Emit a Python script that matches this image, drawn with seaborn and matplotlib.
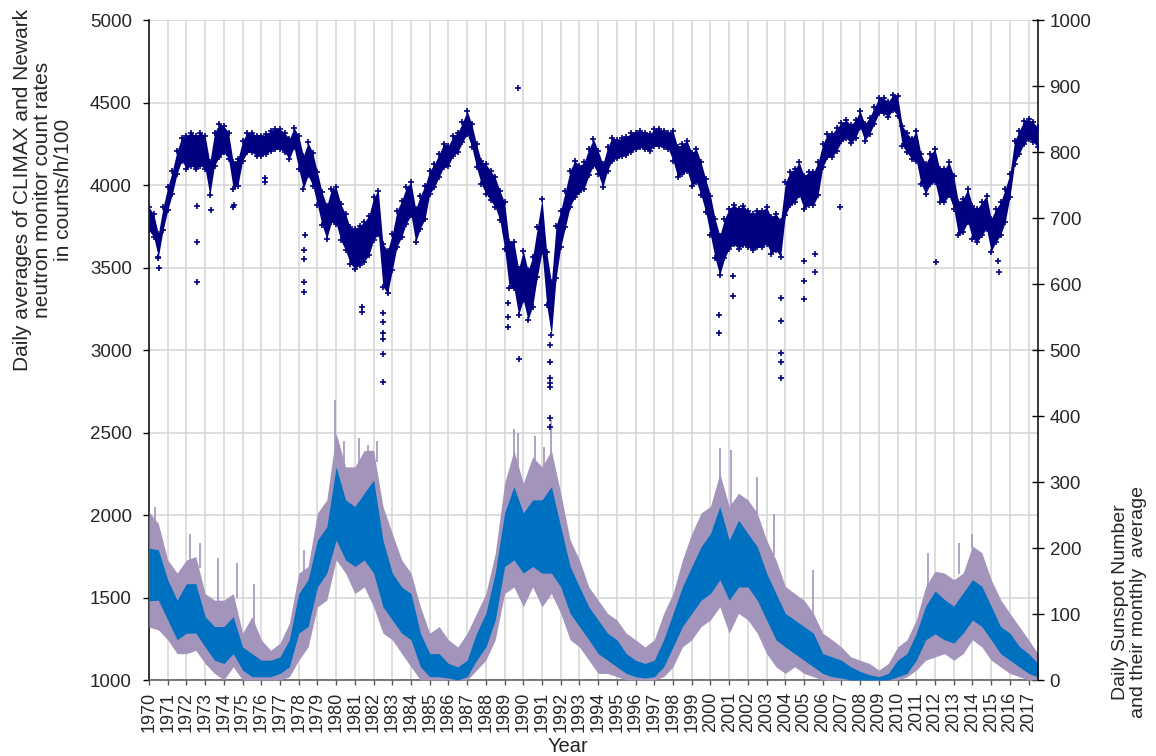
import numpy as np
import matplotlib
matplotlib.use("Agg")
import matplotlib.pyplot as plt
import seaborn as sns

# ---------------------------------------------------------------------------
# Neutron monitor count rates (CLIMAX / Newark), counts/h/100,
# sampled every quarter year starting 1970.0
# ---------------------------------------------------------------------------
nm_start = 1970.0
nm_step = 0.25
nm_counts = [
    3795, 3755, 3635, 3795,   # 1970
    3916, 4017, 4138, 4218,   # 1971
    4198, 4218, 4198, 4218,   # 1972
    4198, 4037, 4218, 4268,   # 1973
    4278, 4238, 4057, 4077,   # 1974
    4208, 4258, 4258, 4238,   # 1975
    4238, 4248, 4268, 4278,   # 1976
    4278, 4258, 4218, 4288,   # 1977
    4198, 4077, 4158, 4097,   # 1978
    3977, 3856, 3775, 3876,   # 1979
    3876, 3775, 3715, 3634,   # 1980
    3614, 3634, 3655, 3695,   # 1981
    3795, 3836, 3514, 3473,   # 1982
    3594, 3735, 3795, 3876,   # 1983
    3916, 3755, 3836, 3896,   # 1984
    4017, 4057, 4118, 4178,   # 1985
    4178, 4238, 4258, 4319,   # 1986
    4379, 4299, 4178, 4077,   # 1987
    4037, 3997, 3956, 3876,   # 1988
    3755, 3514, 3514, 3353,   # 1989
    3453, 3332, 3413, 3594,   # 1990
    3755, 3433, 3252, 3594,   # 1991
    3735, 3856, 3977, 4037,   # 1992
    4037, 4057, 4138, 4198,   # 1993
    4138, 4057, 4158, 4218,   # 1994
    4218, 4228, 4238, 4258,   # 1995
    4268, 4278, 4268, 4258,   # 1996
    4288, 4288, 4278, 4268,   # 1997
    4238, 4138, 4158, 4178,   # 1998
    4097, 4118, 4037, 3936,   # 1999
    3816, 3675, 3574, 3675,   # 2000
    3735, 3760, 3735, 3755,   # 2001
    3735, 3715, 3735, 3735,   # 2002
    3755, 3695, 3715, 3675,   # 2003
    3916, 3977, 3997, 4037,   # 2004
    3956, 3977, 3977, 4037,   # 2005
    4178, 4238, 4238, 4278,   # 2006
    4319, 4339, 4309, 4339,   # 2007
    4399, 4319, 4359, 4420,   # 2008
    4480, 4480, 4460, 4500,   # 2009
    4480, 4299, 4258, 4218,   # 2010
    4238, 4097, 4037, 4097,   # 2011
    4118, 3997, 3997, 4037,   # 2012
    3956, 3795, 3816, 3876,   # 2013
    3775, 3755, 3795, 3836,   # 2014
    3695, 3755, 3795, 3876,   # 2015
    3997, 4198, 4258, 4319,   # 2016
    4339, 4319, 4290,         # 2017
]
# typical day-to-day scatter (half width) for each year 1970..2017
nm_scatter = [
    70, 70, 100, 100, 80, 60, 60, 60, 100, 100,
    110, 120, 130, 110, 100, 70, 60, 70, 90, 140,
    150, 160, 110, 80, 70, 55, 50, 50, 90, 100,
    120, 120, 110, 110, 100, 100, 70, 55, 50, 45,
    60, 90, 100, 100, 100, 100, 70, 60,
]
# isolated days far from the bulk (Forbush decreases and one spike)
nm_event_year = [
    1970.53, 1970.48, 1972.59, 1972.59, 1972.55, 1973.30, 1974.50, 1974.55,
    1976.20, 1976.22, 1978.28, 1978.28, 1978.30, 1978.30, 1978.32, 1981.36,
    1981.36, 1982.50, 1982.50, 1982.50, 1982.50, 1982.52, 1982.52, 1989.16,
    1989.16, 1989.16, 1989.77, 1989.71, 1991.42, 1991.42, 1991.42, 1991.42,
    1991.42, 1991.42, 1991.42, 2000.45, 2000.45, 2001.20, 2001.20, 2003.76,
    2003.76, 2003.76, 2003.76, 2003.76, 2004.98, 2004.98, 2004.98, 2005.60,
    2005.60, 2006.90, 2012.07, 2015.40, 2015.35,
]
nm_event_count = [
    3500, 3560, 3655, 3413, 3870, 3850, 3866, 3880,
    4017, 4040, 3353, 3412, 3551, 3606, 3700, 3230,
    3260, 2808, 2976, 3067, 3103, 3170, 3224, 3285,
    3200, 3140, 2945, 4588, 3030, 2930, 2830, 2800,
    2776, 2588, 2533, 3212, 3105, 3450, 3330, 3313,
    3178, 2984, 2930, 2833, 3540, 3420, 3310, 3580,
    3470, 3866, 3534, 3474, 3540,
]

# ---------------------------------------------------------------------------
# Sunspot number, every half year from 1970.0: range of daily values and
# range of the monthly average
# ---------------------------------------------------------------------------
ss_start = 1970.0
ss_step = 0.5
ss_daily_hi = [
    255, 237, 182, 162, 182, 187, 131, 121, 121, 131,   # 1970-74
    71, 96, 61, 45, 56, 86, 162, 172, 253, 273,         # 1975-79
    374, 323, 323, 348, 348, 263, 222, 182, 162, 111,   # 1980-84
    71, 81, 61, 50, 71, 101, 131, 192, 298, 348,        # 1985-89
    298, 338, 323, 348, 283, 212, 182, 141, 121, 101,   # 1990-94
    91, 71, 61, 50, 61, 101, 131, 182, 222, 253,        # 1995-99
    263, 313, 263, 283, 273, 253, 212, 182, 142, 131,   # 2000-04
    121, 101, 71, 61, 50, 35, 30, 25, 15, 25,           # 2005-09
    50, 61, 91, 142, 165, 162, 152, 162, 203, 193,      # 2010-14
    152, 122, 101, 81, 61, 40,                          # 2015-17
]
ss_daily_lo = [
    80, 76, 61, 40, 40, 45, 25, 10, 0, 20,
    0, 0, 0, 0, 0, 5, 30, 50, 111, 121,
    182, 162, 131, 141, 111, 71, 61, 40, 20, 0,
    0, 0, 0, 0, 0, 15, 30, 61, 131, 141,
    111, 141, 111, 131, 101, 61, 50, 30, 10, 10,
    5, 0, 0, 0, 0, 5, 20, 50, 61, 81,
    91, 111, 71, 101, 91, 71, 40, 20, 10, 20,
    10, 5, 0, 0, 0, 0, 0, 0, 0, 0,
    0, 5, 15, 30, 35, 40, 30, 40, 61, 50,
    30, 20, 10, 5, 0, 0,
]
ss_month_hi = [
    200, 197, 152, 121, 146, 146, 96, 81, 81, 96,
    50, 40, 30, 30, 35, 61, 131, 152, 212, 232,
    323, 273, 263, 283, 303, 212, 162, 141, 131, 71,
    40, 40, 25, 20, 30, 71, 101, 162, 253, 293,
    253, 273, 273, 293, 232, 172, 141, 111, 91, 71,
    61, 40, 30, 25, 30, 61, 101, 141, 172, 202,
    222, 263, 212, 242, 222, 202, 162, 131, 101, 91,
    81, 71, 40, 35, 30, 20, 13, 8, 5, 10,
    30, 40, 71, 112, 135, 122, 112, 132, 152, 142,
    112, 81, 71, 51, 40, 25,
]
ss_month_lo = [
    120, 121, 91, 61, 71, 71, 50, 30, 25, 40,
    15, 5, 5, 5, 10, 20, 71, 81, 141, 162,
    212, 182, 172, 182, 162, 111, 91, 71, 61, 20,
    5, 5, 3, 0, 5, 30, 50, 91, 172, 182,
    162, 172, 162, 162, 141, 101, 81, 61, 40, 30,
    20, 10, 5, 3, 5, 20, 50, 81, 101, 121,
    131, 152, 121, 141, 141, 121, 91, 61, 50, 40,
    30, 20, 10, 5, 3, 0, 0, 0, 0, 0,
    5, 10, 30, 61, 70, 61, 56, 71, 91, 81,
    61, 40, 30, 20, 10, 5,
]
# single days standing out above the daily range
ss_peak_year = [1970.30, 1972.20, 1972.70, 1973.70, 1974.70, 1975.60, 1978.30,
                1979.40, 1979.95, 1980.40, 1981.20, 1981.70, 1982.20, 1989.50,
                1989.70, 1990.60, 1991.10, 1991.50, 2000.50, 2001.10, 2002.50,
                2003.40, 2005.50, 2011.60, 2013.30, 2014.00]
ss_peak_value = [262, 222, 207, 185, 177, 146, 197, 230, 424, 362, 367, 356,
                 362, 381, 375, 369, 353, 394, 352, 348, 308, 251, 167, 193,
                 208, 221]
ss_peak_base = [230, 180, 170, 120, 125, 70, 160, 260, 330, 300, 320, 330,
                330, 330, 320, 310, 310, 330, 300, 260, 250, 190, 100, 140,
                160, 200]

years = list(range(1970, 2018))

NAVY = "#000080"
PURPLE = "#a394bc"
BLUE = "#0070c0"
GRID = "#d4d4d4"
TEXT = "#262626"

sns.set_theme(style="white")
plt.rcParams["font.family"] = ["Liberation Sans", "DejaVu Sans"]

fig = plt.figure(figsize=(11.56, 7.56), dpi=100)
ax = fig.add_axes([0.1289, 0.1005, 0.7690, 0.8730])
ax_ss = ax.twinx()   # sunspot scale on the right
ax_nm = ax.twinx()   # neutron data drawn above everything

# --- base axes: grid, left scale, years ---
ax.set_xlim(1970, 2017.5)
ax.set_ylim(1000, 5000)
ax.set_yticks(np.arange(1000, 5001, 500))
ax.set_xticks(years)
ax.set_xticklabels([str(y) for y in years], rotation=90, fontsize=13, color=TEXT)
ax.tick_params(axis="y", labelsize=13.5, colors=TEXT, direction="out",
               length=4.3, width=1, pad=8, left=True)
ax.tick_params(axis="y", color="black")
ax.tick_params(axis="x", direction="out", length=3.6, width=1, pad=5,
               bottom=True, color="#555555")
ax.grid(True, color=GRID, linewidth=1.1)
ax.set_axisbelow(True)
for side in ("top", "right"):
    ax.spines[side].set_visible(False)
ax.spines["left"].set_color("black")
ax.spines["bottom"].set_color("#555555")
ax.spines["left"].set_linewidth(1.1)
ax.spines["bottom"].set_linewidth(1.1)

# --- sunspot numbers on the right scale ---
ss_years = ss_start + ss_step * np.arange(len(ss_daily_hi))
ax_ss.fill_between(ss_years, ss_daily_lo, ss_daily_hi, color=PURPLE, linewidth=0)
ax_ss.vlines(ss_peak_year, ss_peak_base, ss_peak_value, color=PURPLE, linewidth=1.2)
ax_ss.fill_between(ss_years, ss_month_lo, ss_month_hi, color=BLUE, linewidth=0)
ax_ss.set_ylim(0, 1000)
ax_ss.set_yticks(np.arange(0, 1001, 100))
ax_ss.tick_params(axis="y", labelsize=13.5, colors=TEXT, direction="inout",
                  length=8.6, width=1, pad=4, right=True)
ax_ss.tick_params(axis="y", color="black")
for side in ("top", "left", "bottom"):
    ax_ss.spines[side].set_visible(False)
ax_ss.spines["right"].set_color("black")
ax_ss.spines["right"].set_linewidth(1.1)
ax_ss.grid(False)

# --- neutron monitor rates ---
nm_years = nm_start + nm_step * np.arange(len(nm_counts))
nm_arr = np.array(nm_counts, dtype=float)
half = np.repeat(nm_scatter, 4)[: len(nm_counts)]
ax_nm.fill_between(nm_years, nm_arr - half, nm_arr + half, color=NAVY, linewidth=0)
sns.scatterplot(x=nm_years, y=nm_arr - half, ax=ax_nm, color=NAVY, marker="+",
                s=14, linewidth=1.2, legend=False)
sns.scatterplot(x=nm_years, y=nm_arr + half, ax=ax_nm, color=NAVY, marker="+",
                s=14, linewidth=1.2, legend=False)
sns.scatterplot(x=nm_event_year, y=nm_event_count, ax=ax_nm, color=NAVY, marker="+",
                s=14, linewidth=1.2, legend=False)
ax_nm.set_ylim(1000, 5000)
ax_nm.set_xlim(1970, 2017.5)
ax_nm.axis("off")

# --- axis titles ---
fig.text(0.037, 0.749,
         "Daily averages of CLIMAX and Newark\nneutron monitor count rates\nin counts/h/100",
         rotation=90, ha="center", va="center", multialignment="center",
         fontsize=15, color=TEXT, linespacing=1.1)
fig.text(0.977, 0.204, "Daily Sunspot Number\nand their monthly  average",
         rotation=90, ha="center", va="center", multialignment="center",
         fontsize=14, color=TEXT, linespacing=1.1)
fig.text(0.491, 0.012, "Year", ha="center", va="center", fontsize=14.5, color=TEXT)

fig.savefig("out.png", dpi=100)
